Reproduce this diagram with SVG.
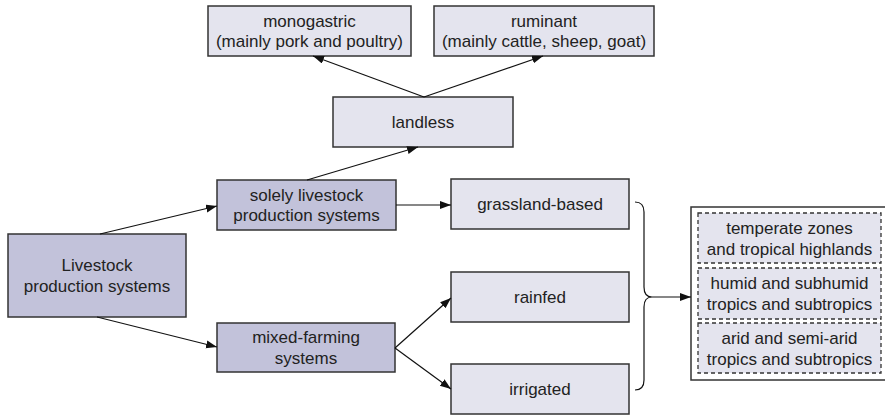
<svg xmlns="http://www.w3.org/2000/svg" width="885" height="415" viewBox="0 0 885 415">
<defs>
<marker id="ah" markerWidth="12" markerHeight="10" refX="11" refY="4" orient="auto" markerUnits="userSpaceOnUse">
<path d="M0,0 L11,4 L0,8 Z" fill="#111"/>
</marker>
<style>
.lt{fill:#e4e4ee;stroke:#333;stroke-width:1.5}
.dk{fill:#c2c2da;stroke:#333;stroke-width:1.5}
.ds{fill:#e4e4ee;stroke:#333;stroke-width:1.3;stroke-dasharray:4,3}
.ob{fill:#fff;stroke:#333;stroke-width:1.5}
text{font-family:"Liberation Sans",Arial,sans-serif;font-size:17px;fill:#222;text-anchor:middle}
.cn{stroke:#111;stroke-width:1.2;fill:none}
</style>
</defs>
<rect width="885" height="415" fill="#fff"/>
<g id="monogastric"><rect class="lt" x="208" y="6" width="203" height="50"/><text x="309.5" y="26.5">monogastric</text><text x="309.5" y="47">(mainly pork and poultry)</text></g>
<g id="ruminant"><rect class="lt" x="434" y="6" width="220" height="50"/><text x="544" y="26.5">ruminant</text><text x="544" y="47">(mainly cattle, sheep, goat)</text></g>
<g id="landless"><rect class="lt" x="333" y="97" width="180" height="50"/><text x="423" y="128">landless</text></g>
<g id="livestock"><rect class="dk" x="8" y="234" width="178" height="83"/><text x="97" y="271">Livestock</text><text x="97" y="291.5">production systems</text></g>
<g id="solely"><rect class="dk" x="217" y="180" width="179" height="50"/><text x="306.5" y="200.5">solely livestock</text><text x="306.5" y="221">production systems</text></g>
<g id="mixed"><rect class="dk" x="217" y="323" width="178" height="49"/><text x="306" y="343">mixed-farming</text><text x="306" y="363.5">systems</text></g>
<g id="grassland"><rect class="lt" x="451" y="179" width="178" height="50"/><text x="540" y="210">grassland-based</text></g>
<g id="rainfed"><rect class="lt" x="451" y="272" width="178" height="50"/><text x="540" y="303">rainfed</text></g>
<g id="irrigated"><rect class="lt" x="451" y="364" width="178" height="50"/><text x="540" y="395">irrigated</text></g>
<g id="zones">
<rect class="ob" x="691" y="207" width="210" height="173"/>
<g id="temperate"><rect class="ds" x="698" y="213" width="183" height="50"/><text x="789.5" y="234">temperate zones</text><text x="789.5" y="254.5">and tropical highlands</text></g>
<g id="humid"><rect class="ds" x="698" y="268" width="183" height="51"/><text x="789.5" y="289">humid and subhumid</text><text x="789.5" y="309.5">tropics and subtropics</text></g>
<g id="arid"><rect class="ds" x="698" y="323" width="183" height="50"/><text x="789.5" y="344">arid and semi-arid</text><text x="789.5" y="364.5">tropics and subtropics</text></g>
</g>
<g id="connectors">
<line class="cn" x1="424" y1="97" x2="313" y2="56" marker-end="url(#ah)"/>
<line class="cn" x1="424" y1="97" x2="543" y2="56" marker-end="url(#ah)"/>
<line class="cn" x1="307" y1="180" x2="418" y2="147" marker-end="url(#ah)"/>
<line class="cn" x1="100" y1="234" x2="217" y2="206" marker-end="url(#ah)"/>
<line class="cn" x1="97" y1="317" x2="217" y2="347" marker-end="url(#ah)"/>
<line class="cn" x1="396" y1="205" x2="451" y2="205" marker-end="url(#ah)"/>
<line class="cn" x1="395" y1="348" x2="451" y2="298" marker-end="url(#ah)"/>
<line class="cn" x1="395" y1="348" x2="451" y2="389" marker-end="url(#ah)"/>
<path class="cn" d="M635,202 Q644,202 644,212 L644,287 Q644,297 652,297 Q644,297 644,307 L644,380 Q644,390 635,390"/>
<line class="cn" x1="652" y1="297" x2="691" y2="297" marker-end="url(#ah)"/>
</g>
</svg>
